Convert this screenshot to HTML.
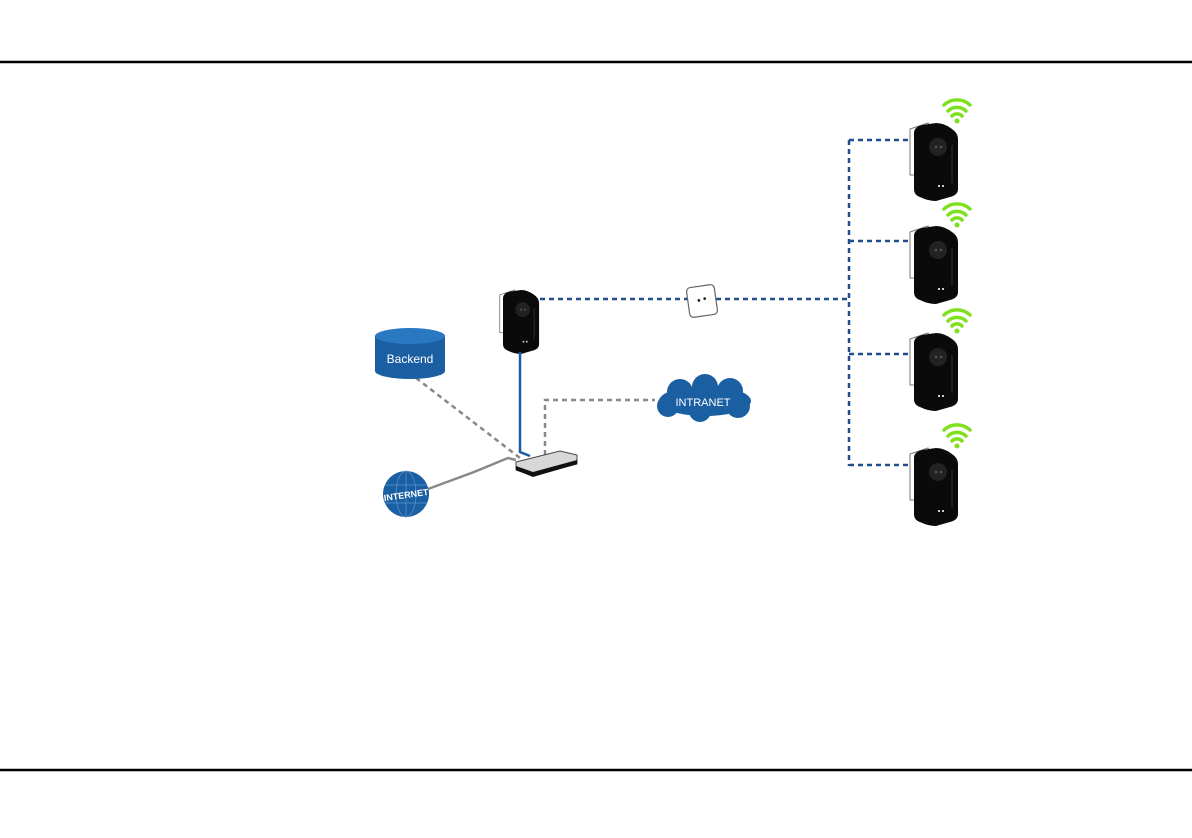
<!DOCTYPE html>
<html><head><meta charset="utf-8"><style>
html,body{margin:0;padding:0;background:#fff;}
svg{display:block;}
</style></head><body>
<svg width="1192" height="838" viewBox="0 0 1192 838" xmlns="http://www.w3.org/2000/svg">
<defs>
<g id="ad">
 <path d="M-4,6 L14,0 L16,4 L2,10 L2,52 L-4,52 Z" fill="#fff" stroke="#777" stroke-width="1"/>
 <path d="M0,10 Q0,4 8,2 L22,0 Q30,0 38,6 Q44,10 44,16 L44,66 Q44,72 36,74 L22,78 Q14,78 6,74 Q0,72 0,66 Z" fill="#0a0a0a"/>
 <circle cx="24" cy="24" r="9" fill="#222"/>
 <circle cx="22" cy="24" r="1.3" fill="#555"/><circle cx="27" cy="24" r="1.3" fill="#555"/>
 <rect x="24" y="62" width="2" height="2" fill="#ccc"/><rect x="28" y="62" width="2" height="2" fill="#ccc"/>
 <line x1="38" y1="22" x2="38" y2="60" stroke="#333" stroke-width="1"/>
</g>
<g id="wifi" fill="none" stroke="#7fe01e" stroke-linecap="round">
 <path d="M-13,-9 A19,19 0 0 1 13,-9" stroke-width="3.5"/>
 <path d="M-9,-3 A13,13 0 0 1 9,-3" stroke-width="3.5"/>
 <path d="M-5,2 A7,7 0 0 1 5,2" stroke-width="3.5"/>
 <circle cx="0" cy="7" r="2.5" fill="#7fe01e" stroke="none"/>
</g>
</defs>
<line x1="0" y1="62" x2="1192" y2="62" stroke="#000" stroke-width="2.5"/>
<line x1="0" y1="770" x2="1192" y2="770" stroke="#000" stroke-width="2.5"/>

<g stroke="#1f4e8c" stroke-width="2.5" stroke-dasharray="5,4" fill="none">
 <line x1="540" y1="299" x2="688" y2="299"/>
 <line x1="716" y1="299" x2="849" y2="299"/>
 <line x1="849" y1="140" x2="849" y2="466"/>
 <line x1="849" y1="140" x2="912" y2="140"/>
 <line x1="849" y1="241" x2="912" y2="241"/>
 <line x1="849" y1="354" x2="912" y2="354"/>
 <line x1="849" y1="465" x2="912" y2="465"/>
</g>
<g transform="rotate(-8 702 301)">
<rect x="688" y="286" width="28" height="30" rx="4" fill="#fff" stroke="#666" stroke-width="1.2"/>
<circle cx="699" cy="300" r="1.4" fill="#222"/><circle cx="705" cy="299" r="1.4" fill="#222"/>
</g>

<use href="#ad" transform="translate(914,123)"/>
<use href="#ad" transform="translate(914,226)"/>
<use href="#ad" transform="translate(914,333)"/>
<use href="#ad" transform="translate(914,448)"/>
<use href="#wifi" transform="translate(957,114)"/>
<use href="#wifi" transform="translate(957,218)"/>
<use href="#wifi" transform="translate(957,324)"/>
<use href="#wifi" transform="translate(957,439)"/>

<g transform="translate(503,290) scale(0.82)"><use href="#ad"/></g>

<polyline points="520,352 520,452 530,456" fill="none" stroke="#1f5aa8" stroke-width="2.5"/>
<line x1="416" y1="378" x2="520" y2="458" stroke="#888" stroke-width="2.5" stroke-dasharray="5,4"/>
<polyline points="545,455 545,400 655,400" fill="none" stroke="#888" stroke-width="2.5" stroke-dasharray="5,4"/>
<polyline points="428,489 474,472 508,458 516,460" fill="none" stroke="#888" stroke-width="2.5"/>

<path d="M516,462 L560,451 L577,455 L577,464 L533,476 L516,470 Z" fill="#d8d8d8" stroke="#444" stroke-width="1"/>
<path d="M516,466 L533,472 L577,460 L577,464 L533,477 L516,470 Z" fill="#111"/>

<path d="M375,336 L375,371 A35,8 0 0 0 445,371 L445,336 Z" fill="#1b5fa3"/>
<ellipse cx="410" cy="336" rx="35" ry="8" fill="#2a78c2"/>
<text x="410" y="363" font-family="Liberation Sans, sans-serif" font-size="12" fill="#fff" text-anchor="middle">Backend</text>

<g fill="#1b5fa3">
 <ellipse cx="705" cy="401" rx="46" ry="15"/>
 <circle cx="680" cy="392" r="13"/><circle cx="705" cy="387" r="13"/><circle cx="730" cy="391" r="13"/>
 <circle cx="668" cy="406" r="11"/><circle cx="700" cy="411" r="11"/><circle cx="738" cy="406" r="12"/>
</g>
<text x="703" y="406" font-family="Liberation Sans, sans-serif" font-size="11" fill="#fff" text-anchor="middle">INTRANET</text>

<circle cx="406" cy="494" r="23" fill="#1b5fa3"/>
<g stroke="#5d95cf" stroke-width="0.7" fill="none">
 <ellipse cx="406" cy="494" rx="10" ry="23"/><line x1="406" y1="471" x2="406" y2="517"/>
 <line x1="385" y1="485" x2="427" y2="485"/><line x1="385" y1="503" x2="427" y2="503"/>
</g>
<text x="406" y="498" font-family="Liberation Sans, sans-serif" font-size="9" font-weight="bold" fill="#fff" text-anchor="middle" transform="rotate(-8 406 494)">INTERNET</text>
</svg>
</body></html>
